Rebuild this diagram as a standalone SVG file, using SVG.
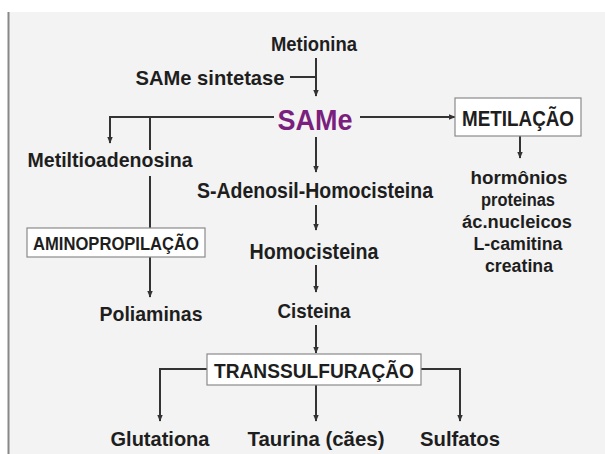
<svg xmlns="http://www.w3.org/2000/svg" width="605" height="454" viewBox="0 0 605 454">
<defs>
<marker id="ah" viewBox="0 0 10 10" refX="9" refY="5" markerWidth="7" markerHeight="7" orient="auto" markerUnits="userSpaceOnUse">
<path d="M0,1 L10,5 L0,9 Z" fill="#333"/>
</marker>
</defs>
<style>
.t{font-family:"Liberation Sans",Arial,sans-serif;font-weight:bold;fill:#1e1e1e;text-anchor:middle}
.c{fill:none;stroke:#333;stroke-width:2}
.a{marker-end:url(#ah)}
.box{fill:#fff;stroke:#8a8a8a;stroke-width:1.2}
</style>
<rect x="0" y="0" width="605" height="454" fill="#fff"/>
<rect x="8" y="12" width="597" height="442" fill="#f3f3f3"/>
<line x1="8.5" y1="12" x2="8.5" y2="454" stroke="#888" stroke-width="2"/>

<g id="connectors">
<path class="c a" d="M316,58 V96"/>
<path class="c" d="M290,77 H316"/>
<path class="c a" d="M274,117 H110 V143"/>
<path class="c" d="M150,117 V150"/>
<path class="c" d="M150,176 V228"/>
<path class="c a" d="M150,257 V297"/>
<path class="c a" d="M360,117 H455"/>
<path class="c a" d="M520,136 V158"/>
<path class="c a" d="M316,137 V172"/>
<path class="c a" d="M316,205 V230"/>
<path class="c a" d="M316,265 V292"/>
<path class="c a" d="M316,325 V353"/>
<path class="c a" d="M207,369 H160 V421"/>
<path class="c a" d="M421,369 H460 V421"/>
<path class="c a" d="M316,385 V421"/>
</g>

<g id="metionina"><text class="t" x="314" y="51" font-size="21" textLength="86" lengthAdjust="spacingAndGlyphs">Metionina</text></g>
<g id="same-sintetase"><text class="t" x="210" y="85" font-size="21" textLength="149" lengthAdjust="spacingAndGlyphs">SAMe sintetase</text></g>
<g id="same"><text class="t" x="315" y="130" font-size="29" style="fill:#7a1f7e" textLength="75" lengthAdjust="spacingAndGlyphs">SAMe</text></g>
<g id="metilacao">
<rect class="box" x="455" y="98" width="126" height="38"/>
<text class="t" x="518" y="126" font-size="22" textLength="112" lengthAdjust="spacingAndGlyphs">METILAÇÃO</text>
</g>
<g id="metiltioadenosina"><text class="t" x="110" y="167" font-size="21" textLength="165" lengthAdjust="spacingAndGlyphs">Metiltioadenosina</text></g>
<g id="sah"><text class="t" x="315" y="198" font-size="22" textLength="236" lengthAdjust="spacingAndGlyphs">S-Adenosil-Homocisteina</text></g>
<g id="metil-list">
<text class="t" x="519" y="184" font-size="18" textLength="97" lengthAdjust="spacingAndGlyphs">hormônios</text>
<text class="t" x="518" y="206" font-size="18" textLength="74" lengthAdjust="spacingAndGlyphs">proteinas</text>
<text class="t" x="517" y="228" font-size="18" textLength="110" lengthAdjust="spacingAndGlyphs">ác.nucleicos</text>
<text class="t" x="518" y="250" font-size="18" textLength="89" lengthAdjust="spacingAndGlyphs">L-camitina</text>
<text class="t" x="519" y="272" font-size="18" textLength="68" lengthAdjust="spacingAndGlyphs">creatina</text>
</g>
<g id="aminopropilacao">
<rect class="box" x="27" y="228" width="178" height="29"/>
<text class="t" x="116" y="250" font-size="18" textLength="166" lengthAdjust="spacingAndGlyphs">AMINOPROPILAÇÃO</text>
</g>
<g id="homocisteina"><text class="t" x="314" y="259" font-size="22" textLength="129" lengthAdjust="spacingAndGlyphs">Homocisteina</text></g>
<g id="poliaminas"><text class="t" x="151" y="321" font-size="21" textLength="103" lengthAdjust="spacingAndGlyphs">Poliaminas</text></g>
<g id="cisteina"><text class="t" x="314" y="318" font-size="21" textLength="73" lengthAdjust="spacingAndGlyphs">Cisteina</text></g>
<g id="transsulfuracao">
<rect class="box" x="207" y="354" width="214" height="31"/>
<text class="t" x="314" y="378" font-size="21" textLength="200" lengthAdjust="spacingAndGlyphs">TRANSSULFURAÇÃO</text>
</g>
<g id="glutationa"><text class="t" x="160" y="446" font-size="21" textLength="99" lengthAdjust="spacingAndGlyphs">Glutationa</text></g>
<g id="taurina"><text class="t" x="316" y="446" font-size="21" textLength="137" lengthAdjust="spacingAndGlyphs">Taurina (cães)</text></g>
<g id="sulfatos"><text class="t" x="460" y="446" font-size="21" textLength="80" lengthAdjust="spacingAndGlyphs">Sulfatos</text></g>
</svg>
